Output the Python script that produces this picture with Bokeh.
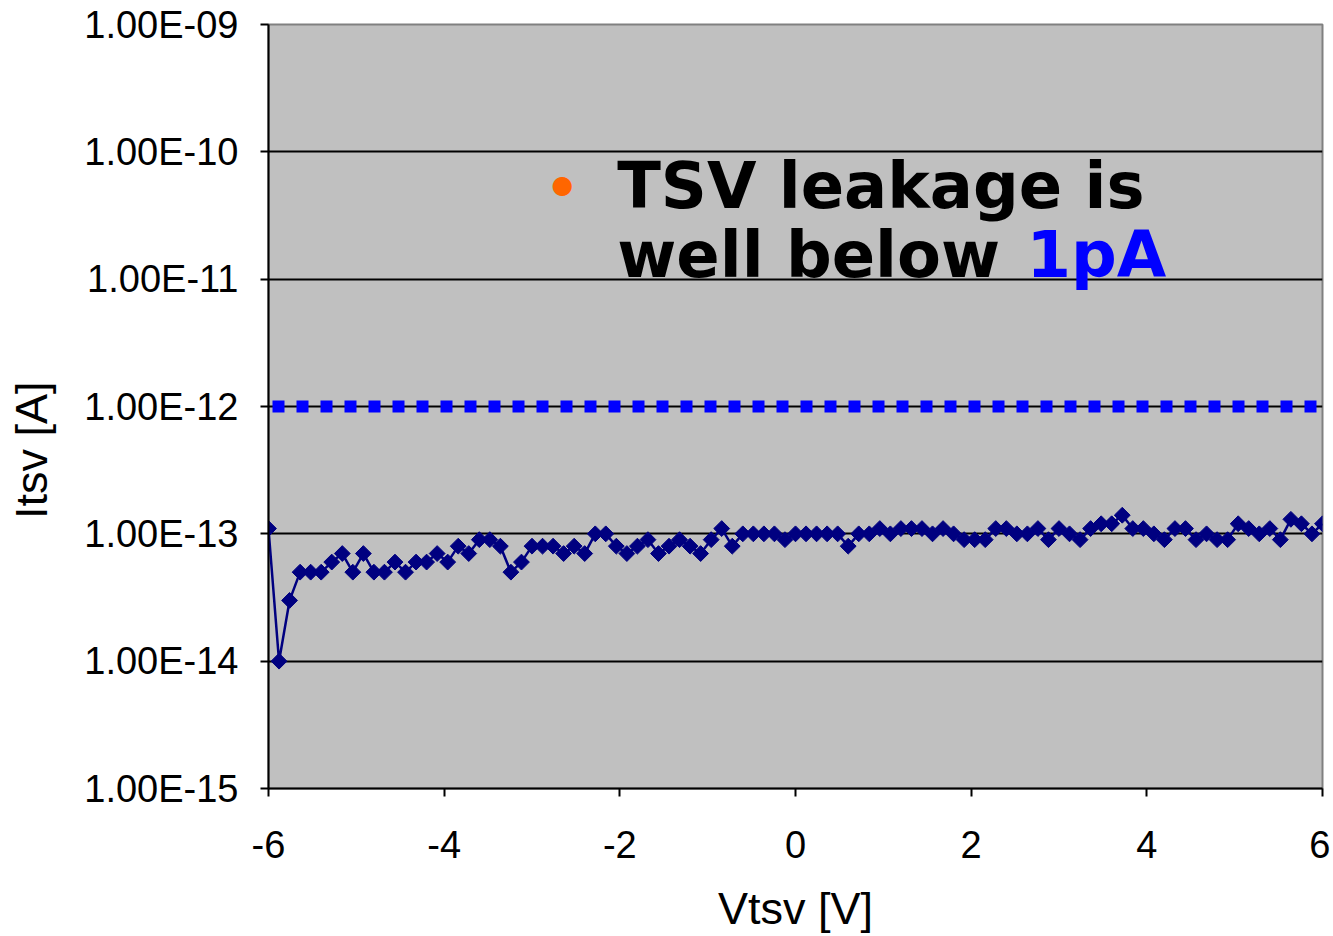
from bokeh.plotting import figure
from bokeh.models import FixedTicker, Label, Range1d, ColumnDataSource
from bokeh.embed import file_html
from bokeh.resources import INLINE
import numpy as np

# Voltage sweep (V)
vtsv = [round(-6 + 0.12 * i, 2) for i in range(101)]
# Leakage current, in units of 1e-14 A
itsv_e14 = [11, 1, 3, 5, 5, 5, 6, 7, 5, 7,
            5, 5, 6, 5, 6, 6, 7, 6, 8, 7,
            9, 9, 8, 5, 6, 8, 8, 8, 7, 8,
            7, 10, 10, 8, 7, 8, 9, 7, 8, 9,
            8, 7, 9, 11, 8, 10, 10, 10, 10, 9,
            10, 10, 10, 10, 10, 8, 10, 10, 11, 10,
            11, 11, 11, 10, 11, 10, 9, 9, 9, 11,
            11, 10, 10, 11, 9, 11, 10, 9, 11, 12,
            12, 14, 11, 11, 10, 9, 11, 11, 9, 10,
            9, 9, 12, 11, 10, 11, 9, 13, 12, 10,
            12]
itsv = [v * 1e-14 for v in itsv_e14]

# 1 pA reference line
ref_x = [-6, 6]
ref_y = [1e-12, 1e-12]

y_ticks = [1e-15, 1e-14, 1e-13, 1e-12, 1e-11, 1e-10, 1e-9]
y_tick_labels = ["1.00E-15", "1.00E-14", "1.00E-13", "1.00E-12",
                 "1.00E-11", "1.00E-10", "1.00E-09"]
x_ticks = [-6, -4, -2, 0, 2, 4, 6]
x_tick_labels = ["-6", "-4", "-2", "0", "2", "4", "6"]

p = figure(frame_width=1054, frame_height=764, y_axis_type="log",
           x_range=Range1d(-6, 6), y_range=Range1d(1e-15, 1e-9),
           output_backend="svg", toolbar_location=None,
           min_border_left=268, min_border_top=24, min_border_right=8,
           min_border_bottom=130)

p.background_fill_color = "#C0C0C0"
p.border_fill_color = "white"
p.outline_line_color = "#808080"
p.outline_line_width = 2

yt = FixedTicker(ticks=y_ticks, minor_ticks=[])
xt = FixedTicker(ticks=x_ticks, minor_ticks=[])
p.yaxis.ticker = yt
p.xaxis.ticker = xt
p.ygrid.ticker = yt
p.xgrid.visible = False
p.ygrid.grid_line_color = "black"
p.ygrid.grid_line_width = 2
p.yaxis.major_label_overrides = {t: l for t, l in zip(y_ticks, y_tick_labels)}
p.xaxis.major_label_overrides = {t: l for t, l in zip(x_ticks, x_tick_labels)}

for ax in (p.xaxis, p.yaxis):
    ax.axis_line_color = "black"
    ax.axis_line_width = 2
    ax.major_tick_line_color = "black"
    ax.major_tick_line_width = 2
    ax.major_tick_out = 8
    ax.major_tick_in = 0
    ax.minor_tick_out = 0
    ax.minor_tick_in = 0
    ax.major_label_text_font = "Liberation Sans"
    ax.major_label_text_font_size = "38px"
    ax.major_label_text_color = "black"
    ax.axis_label_text_font = "Liberation Sans"
    ax.axis_label_text_font_size = "45px"
    ax.axis_label_text_font_style = "normal"
    ax.axis_label_text_color = "black"

p.xaxis.axis_label = "Vtsv [V]"
# trailing no-break spaces push the visible title below the frame centre,
# where the original chart has it
p.yaxis.axis_label = "Itsv [A]" + "\u00a0" * 7
p.yaxis.major_label_standoff = 22
p.yaxis.axis_label_standoff = 24
p.xaxis.major_label_standoff = 34
p.xaxis.axis_label_standoff = 22

p.line(ref_x, ref_y, line_color="#0000FF", line_width=12,
       line_dash="12 12", line_dash_offset=20, line_cap="butt")

src = ColumnDataSource(dict(x=vtsv, y=itsv))
p.line("x", "y", source=src, line_color="#000080", line_width=2.5)
p.scatter("x", "y", source=src, marker="square", size=11.2, angle=np.pi / 4,
          fill_color="#000080", line_color="#000080")

p.add_layout(Label(x=-2.653, y=5.53e-11, text="\u25cf", text_color="#FF6600",
                   text_font="DejaVu Sans", text_font_size="25px",
                   text_align="center", text_baseline="middle"))
p.add_layout(Label(x=-2.03, y=5.35e-11, text="TSV leakage is",
                   text_color="black", text_font="DejaVu Sans",
                   text_font_style="bold", text_font_size="64px",
                   text_baseline="alphabetic"))
p.add_layout(Label(x=-2.03, y=1.56e-11, text="well below",
                   text_color="black", text_font="DejaVu Sans",
                   text_font_style="bold", text_font_size="64px",
                   text_baseline="alphabetic"))
p.add_layout(Label(x=2.63, y=1.56e-11, text="1pA",
                   text_color="#0000FF", text_font="DejaVu Sans",
                   text_font_style="bold", text_font_size="64px",
                   text_baseline="alphabetic"))

open("out.html", "w").write(file_html(p, INLINE))
